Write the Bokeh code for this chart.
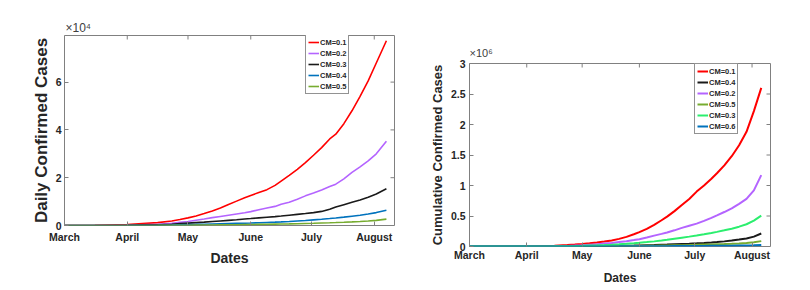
import math
from bokeh.plotting import figure
from bokeh.models import FixedTicker, Range1d, Title
from bokeh.layouts import row
from bokeh.embed import file_html
from bokeh.resources import INLINE

# ---------------- data ----------------
month_ticks = [0, 31, 61, 92, 122, 153]          # days since 1 March
month_labels = ["March", "April", "May", "June", "July", "August"]

days_daily = [0, 15, 31, 46, 53, 57, 61, 65, 69, 73, 77, 81, 85, 89, 92, 96,
              100, 104, 107, 111, 115, 119, 123, 127, 131, 134, 138, 142, 146, 150, 154, 159]
daily_cm01 = [0, 60, 400, 1200, 1900, 2500, 3200, 4000, 5000, 6100, 7300, 8800, 10200, 11600, 12600, 13800,
              15000, 16800, 18600, 21000, 23500, 26300, 29400, 32600, 36200, 38200, 42600, 48000, 54000, 60500, 68000, 77300]
daily_cm02 = [0, 20, 120, 500, 900, 1300, 1700, 2200, 2700, 3300, 3800, 4300, 4800, 5300, 5800, 6600,
              7300, 8000, 8900, 9700, 11000, 12400, 13600, 14900, 16300, 17300, 19500, 22200, 24500, 27000, 30000, 35300]
daily_cm03 = [0, 10, 60, 250, 500, 800, 1000, 1200, 1400, 1650, 1900, 2150, 2400, 2700, 2900, 3200,
              3450, 3700, 3950, 4300, 4650, 5000, 5400, 5900, 6800, 7700, 8700, 9700, 10700, 11800, 13200, 15400]
daily_cm04 = [0, 5, 30, 120, 220, 300, 380, 450, 530, 610, 690, 780, 870, 960, 1030, 1150,
              1270, 1400, 1520, 1700, 1900, 2100, 2350, 2600, 2900, 3150, 3500, 3900, 4300, 4800, 5400, 6400]
daily_cm05 = [0, 2, 10, 40, 70, 100, 130, 160, 190, 220, 250, 290, 330, 370, 400, 450,
              500, 560, 610, 680, 760, 840, 930, 1030, 1140, 1230, 1360, 1510, 1680, 1880, 2130, 2650]

days_cum = [0, 15, 31, 46, 53, 57, 61, 65, 69, 73, 77, 81, 85, 89, 92, 96,
            100, 104, 107, 111, 115, 119, 123, 127, 131, 134, 138, 142, 146, 150, 154, 158]
cum_cm01 = [0, 300, 2000, 12000, 24000, 33000, 43000, 54000, 66000, 82000, 100000, 125000, 158000, 200000, 235000, 290000,
            355000, 430000, 490000, 580000, 680000, 780000, 900000, 1000000, 1110000, 1200000, 1330000, 1480000, 1660000, 1880000, 2220000, 2600000]
cum_cm04 = [0, 0, 200, 1000, 2000, 3000, 4000, 5000, 6500, 8000, 9500, 11000, 13000, 15500, 18000, 21000,
            24000, 28000, 31000, 36000, 41000, 46000, 52000, 59000, 67000, 74000, 84000, 97000, 113000, 132000, 162000, 213000]
cum_cm02 = [0, 150, 1000, 5000, 10000, 15000, 22000, 30000, 38000, 48000, 58000, 72000, 86000, 105000, 120000, 148000,
            178000, 207000, 230000, 265000, 305000, 340000, 375000, 420000, 470000, 510000, 565000, 625000, 700000, 780000, 920000, 1170000]
cum_cm05 = [0, 0, 200, 800, 1300, 1800, 2500, 3200, 4000, 5000, 6000, 7000, 8200, 9500, 10500, 12000,
            14000, 16000, 17500, 20000, 22500, 25000, 28000, 31000, 34000, 36500, 40000, 45000, 51000, 58000, 68000, 88000]
cum_cm03 = [0, 100, 500, 2500, 5000, 7500, 11000, 15000, 19000, 24000, 30000, 37000, 45000, 54000, 61000, 72000,
            84000, 98000, 110000, 128000, 145000, 162000, 180000, 200000, 222000, 240000, 265000, 292000, 325000, 365000, 425000, 507000]
cum_cm06 = [0, 0, 100, 300, 500, 700, 1000, 1200, 1400, 1700, 2000, 2300, 2700, 3100, 3500, 4000,
            4500, 5000, 5500, 6200, 7000, 7800, 8700, 9500, 10500, 11300, 12300, 14000, 15500, 17000, 20000, 25000]

daily_ticks = [0, 20000, 40000, 60000]
daily_tick_labels = ["0", "2", "4", "6"]
cum_ticks = [0, 500000, 1000000, 1500000, 2000000, 2500000, 3000000]
cum_tick_labels = ["0", "0.5", "1", "1.5", "2", "2.5", "3"]
daily_exponent = "×10⁴"
cum_exponent = "×10⁶"

X_END = 163
DAILY_Y_END = 79500
CUM_Y_END = 3000000

TXT = "#262626"
BOX = "#808080"
FONT = "Liberation Sans"


def style(p, yticks, ylabels, tick_fs, ystand, xstand, x_end, y_end):
    p.frame_align = False
    p.xgrid.visible = False
    p.ygrid.visible = False
    p.outline_line_color = BOX
    p.outline_line_width = 1
    p.background_fill_color = "white"
    p.border_fill_color = "white"
    xa = p.below[0]
    ya = p.left[0]
    xa.ticker = FixedTicker(ticks=month_ticks)
    xa.major_label_overrides = {t: l for t, l in zip(month_ticks, month_labels)}
    ya.ticker = FixedTicker(ticks=yticks)
    ya.major_label_overrides = {t: l for t, l in zip(yticks, ylabels)}
    for ax in (xa, ya):
        ax.axis_line_color = None
        ax.major_tick_in = 4
        ax.major_tick_out = 0
        ax.major_tick_line_color = BOX
        ax.minor_tick_line_color = None
        ax.major_label_text_font = FONT
        ax.major_label_text_font_style = "bold"
        ax.major_label_text_font_size = tick_fs
        ax.major_label_text_color = TXT
        ax.axis_label_text_font = FONT
        ax.axis_label_text_font_style = "bold"
        ax.axis_label_text_color = TXT
    ya.major_label_standoff = ystand
    xa.major_label_standoff = xstand
    # mirrored inward ticks on the top and right edges of the box
    p.ray(x=month_ticks, y=[y_end] * len(month_ticks), length=4, length_units="screen",
          angle=-math.pi / 2, line_color=BOX, line_width=1)
    p.ray(x=[x_end] * len(yticks), y=yticks, length=4, length_units="screen",
          angle=math.pi, line_color=BOX, line_width=1)
    return xa, ya


def style_legend(p, x, y, fs):
    lg = p.legend[0]
    lg.location = (x, y)
    lg.margin = 0
    lg.padding = 2
    lg.spacing = 1
    lg.label_height = 10
    lg.glyph_height = 10
    lg.glyph_width = 11
    lg.label_standoff = 1
    lg.label_text_font = FONT
    lg.label_text_font_style = "bold"
    lg.label_text_font_size = fs
    lg.label_text_color = TXT
    lg.border_line_color = TXT
    lg.border_line_width = 1
    lg.background_fill_alpha = 1


# ---------------- left: daily ----------------
p1 = figure(width=408, height=282, output_backend="svg", toolbar_location=None,
            x_range=Range1d(0, X_END), y_range=Range1d(0, DAILY_Y_END),
            min_border_left=64, min_border_right=14, min_border_top=35, min_border_bottom=57)
xa1, ya1 = style(p1, daily_ticks, daily_tick_labels, "10.5px", 3, 5, X_END, DAILY_Y_END)
xa1.axis_label = "Dates"
xa1.axis_label_text_font_size = "14px"
xa1.axis_label_standoff = 4
ya1.axis_label = "Daily Confirmed Cases"
ya1.axis_label_text_font_size = "17px"
ya1.axis_label_standoff = 2

lw1 = 1.6
p1.line(days_daily, daily_cm01, color="#FF0000", line_width=lw1, legend_label="CM=0.1")
p1.line(days_daily, daily_cm02, color="#B464FF", line_width=lw1, legend_label="CM=0.2")
p1.line(days_daily, daily_cm03, color="#1A1A1A", line_width=lw1, legend_label="CM=0.3")
p1.line(days_daily, daily_cm04, color="#0072BD", line_width=lw1, legend_label="CM=0.4")
p1.line(days_daily, daily_cm05, color="#77AC30", line_width=lw1, legend_label="CM=0.5")
style_legend(p1, 241, 131, "7.5px")

p1.add_layout(Title(text=daily_exponent, align="left", offset=1, standoff=1,
                    text_font=FONT, text_font_style="normal", text_font_size="12px",
                    text_color="#404040"), "above")

# ---------------- right: cumulative ----------------
p2 = figure(width=392, height=288, output_backend="svg", toolbar_location=None,
            x_range=Range1d(0, X_END), y_range=Range1d(0, CUM_Y_END),
            min_border_left=61, min_border_right=30, min_border_top=63, min_border_bottom=42)
xa2, ya2 = style(p2, cum_ticks, cum_tick_labels, "10.5px", 4, 2, X_END, CUM_Y_END)
xa2.axis_label = "Dates"
xa2.axis_label_text_font_size = "12px"
xa2.axis_label_standoff = 7
ya2.axis_label = "Cumulative Confirmed Cases"
ya2.axis_label_text_font_size = "13px"
ya2.axis_label_standoff = 3

lw2 = 2
p2.line(days_cum, cum_cm01, color="#FF0000", line_width=lw2, legend_label="CM=0.1")
p2.line(days_cum, cum_cm04, color="#1A1A1A", line_width=lw2, legend_label="CM=0.4")
p2.line(days_cum, cum_cm02, color="#B464FF", line_width=lw2, legend_label="CM=0.2")
p2.line(days_cum, cum_cm05, color="#77AC30", line_width=lw2, legend_label="CM=0.5")
p2.line(days_cum, cum_cm03, color="#2BEE6E", line_width=lw2, legend_label="CM=0.3")
p2.line(days_cum, cum_cm06, color="#0072BD", line_width=lw2, legend_label="CM=0.6")
style_legend(p2, 225, 112, "7.5px")

p2.add_layout(Title(text=cum_exponent, align="left", offset=0, standoff=9,
                    text_font=FONT, text_font_style="normal", text_font_size="11px",
                    text_color="#404040"), "above")

layout = row(p1, p2)
open("out.html", "w").write(file_html(layout, INLINE))
